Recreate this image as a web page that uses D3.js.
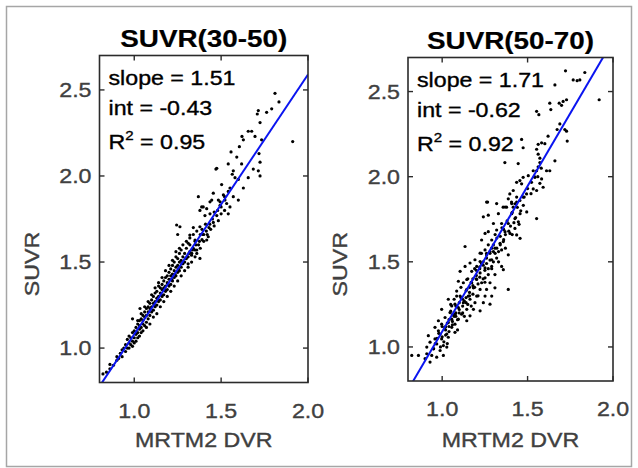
<!DOCTYPE html>
<html>
<head>
<meta charset="utf-8">
<script src="https://cdn.jsdelivr.net/npm/d3@7"></script>
<style>
  body { margin: 0; background: #fff; }
  text { font-family: "Liberation Sans", Arial, sans-serif; }
</style>
</head>
<body>
<svg id="chart" width="638" height="468"></svg>
<script>
// chart values
var titles = ["SUVR(30-50)", "SUVR(50-70)"];
var slopes = [1.51, 1.71];
var intercepts = [-0.43, -0.62];
var rSquared = [0.95, 0.92];
var xTicks = [1.0, 1.5, 2.0];
var yTicks = [1.0, 1.5, 2.0, 2.5];
var xDomain = [0.8, 2.0];
var yDomain = [0.8, 2.7];
var xLabel = "MRTM2 DVR";
var yLabel = "SUVR";

// [MRTM2 DVR, SUVR] pairs, SUVR(30-50)
var pts3050 = [
  [0.82,0.85],[0.84,0.86],[0.86,0.88],[0.86,0.905],[0.88,0.90],[0.90,0.95],[0.90,0.93],[0.91,0.94],
  [0.92,0.97],[0.93,0.95],[0.93,0.99],[0.94,1.00],[0.95,1.02],[0.95,0.98],
  [0.96,1.00],[0.96,1.05],[0.97,1.03],[0.97,1.07],[0.98,1.02],[0.98,1.06],[0.99,1.04],[0.99,1.09],
  [1.00,1.06],[1.00,1.10],[1.00,1.03],[1.01,1.08],[1.01,1.12],[1.02,1.09],[1.02,1.14],[1.02,1.06],
  [1.03,1.11],[1.03,1.16],[1.03,1.13],[1.04,1.12],[1.04,1.17],[1.04,1.09],[1.05,1.14],[1.05,1.19],
  [1.05,1.16],[1.06,1.13],[1.06,1.18],[1.06,1.21],[1.07,1.15],[1.07,1.19],[1.07,1.23],[1.08,1.17],
  [1.08,1.21],[1.08,1.24],[1.09,1.19],[1.09,1.23],[1.09,1.26],[1.10,1.21],[1.10,1.24],[1.10,1.28],
  [1.033,1.23],[0.99,1.17],
  [1.11,1.22],[1.11,1.26],[1.11,1.30],[1.12,1.24],[1.12,1.27],[1.12,1.32],[1.13,1.25],[1.13,1.29],
  [1.13,1.33],[1.14,1.27],[1.14,1.30],[1.14,1.36],[1.15,1.28],[1.15,1.32],[1.15,1.35],[1.16,1.30],
  [1.16,1.34],[1.16,1.37],[1.17,1.31],[1.17,1.35],[1.17,1.39],[1.18,1.33],[1.18,1.36],[1.18,1.41],
  [1.19,1.34],[1.19,1.38],[1.19,1.42],[1.20,1.36],[1.20,1.40],[1.20,1.44],[1.21,1.37],[1.21,1.42],
  [1.21,1.46],[1.22,1.39],[1.22,1.43],[1.22,1.48],[1.23,1.41],[1.23,1.45],[1.23,1.50],[1.24,1.42],
  [1.24,1.47],[1.24,1.53],[1.25,1.44],[1.25,1.48],[1.25,1.52],[1.26,1.45],[1.26,1.50],[1.26,1.55],
  [1.27,1.47],[1.27,1.51],[1.27,1.57],[1.28,1.49],[1.28,1.53],[1.29,1.50],[1.29,1.55],[1.30,1.52],
  [1.30,1.58],[1.31,1.53],[1.31,1.49],[1.32,1.56],[1.32,1.60],[1.33,1.54],[1.34,1.58],[1.35,1.57],
  [1.35,1.62],[1.36,1.55],[1.37,1.60],[1.38,1.66],[1.38,1.58],[1.39,1.63],
  [0.97,1.00],[0.99,1.01],[1.01,1.04],[1.03,1.07],[1.05,1.10],[1.07,1.12],[1.09,1.14],[1.11,1.18],
  [1.13,1.20],[1.15,1.24],[1.17,1.27],[1.19,1.30],[1.21,1.33],[1.23,1.36],[1.25,1.39],[1.27,1.42],
  [1.29,1.45],[1.31,1.47],[1.33,1.50],[1.35,1.53],
  [1.02,1.16],[1.04,1.20],[1.06,1.24],[1.08,1.27],[1.10,1.31],[1.12,1.35],[1.14,1.38],[1.16,1.41],
  [1.18,1.45],[1.20,1.48],[1.22,1.51],[1.24,1.56],[1.26,1.58],[1.28,1.60],[1.30,1.62],[1.32,1.64],
  [1.34,1.66],[1.36,1.68],
  [1.115,1.25],[1.135,1.28],[1.155,1.31],[1.175,1.34],[1.195,1.37],[1.215,1.40],[1.235,1.43],
  [1.255,1.46],[1.275,1.49],[1.295,1.52],[1.315,1.55],[1.335,1.57],[1.355,1.60],[1.375,1.62],
  [1.395,1.66],[1.415,1.68],[1.435,1.72],[1.455,1.73],[1.475,1.77],
  [1.40,1.62],[1.42,1.66],[1.44,1.69],[1.46,1.71],[1.48,1.80],[1.50,1.82],[1.52,1.88],[1.50,1.78],
  [1.244,1.715],[1.263,1.705],[1.25,1.66],[1.34,1.70],[1.378,1.705],[1.32,1.657],[1.35,1.628],
  [1.311,1.609],[1.36,1.57],[1.378,1.521],[1.331,1.551],[1.426,1.647],[1.417,1.628],[1.40,1.66],
  [1.39,1.69],[1.41,1.72],[1.43,1.70],[1.45,1.75],[1.46,1.79],[1.52,1.80],
  [1.378,1.80],[1.388,1.82],[1.407,1.77],[1.436,1.78],[1.436,1.85],[1.494,1.85],[1.541,1.78],
  [1.484,1.74],[1.369,1.88],[1.397,1.82],[1.417,1.81],[1.446,1.86],[1.455,1.90],[1.47,2.04],
  [1.475,2.045],[1.484,1.86],[1.494,1.83],[1.503,1.95],[1.513,1.89],[1.522,1.86],[1.532,1.84],
  [1.541,1.91],[1.551,1.93],[1.551,1.82],[1.557,2.14],[1.541,2.07],[1.57,2.03],[1.564,2.01],
  [1.58,1.99],[1.57,1.88],[1.599,1.86],[1.599,1.98],[1.59,2.11],[1.605,2.17],[1.618,2.07],
  [1.62,2.23],[1.628,2.21],[1.628,1.93],[1.656,2.26],[1.656,1.99],[1.676,2.26],[1.685,2.04],
  [1.695,2.23],[1.714,2.38],[1.714,2.03],[1.708,2.36],[1.718,2.13],[1.724,2.31],[1.724,2.08],
  [1.724,2.00],[1.733,2.21],[1.762,2.37],[1.791,2.39],[1.81,2.48],[1.833,2.43],[1.912,2.20]
];

// [MRTM2 DVR, SUVR] pairs, SUVR(50-70)
var pts5070 = [
  [0.822,0.950],[0.861,0.950],[0.900,0.931],[0.929,0.911],[0.910,0.960],[0.939,0.950],[0.968,0.940],
  [1.007,0.950],[0.910,0.999],[0.949,0.989],[0.988,0.979],[1.027,0.999],[0.929,1.028],[0.968,1.018],
  [1.007,1.008],[0.958,1.047],[0.997,1.047],[1.036,1.057],[0.919,1.066],[0.988,1.076],[1.027,1.076],
  [1.075,1.086],[0.978,1.095],[1.017,1.115],[1.056,1.115],[0.958,1.115],[0.997,1.134],[1.036,1.144],
  [1.075,1.134],[0.978,1.154],[1.056,1.163],[1.095,1.163],[1.144,1.154],[1.017,1.173],[1.075,1.192],
  [1.114,1.192],[1.163,1.183],[1.046,1.202],[1.144,1.221],[1.183,1.221],[1.222,1.212],[0.997,1.221],
  [1.056,1.241],[1.095,1.231],[1.075,1.251],[1.124,1.260],[1.192,1.260],[1.241,1.260],[1.280,1.251],
  [1.036,1.280],[1.163,1.280],[1.085,1.299],[1.105,1.299],[1.153,1.299],[1.202,1.299],[1.251,1.299],
  [1.290,1.299],[1.085,1.328],[1.144,1.338],[1.183,1.347],[1.222,1.338],[1.260,1.338],[1.309,1.347],
  [1.387,1.338],[1.095,1.386],[1.124,1.377],[1.173,1.377],[1.231,1.377],[1.280,1.377],[1.144,1.396],
  [1.202,1.396],[1.251,1.406],[1.105,1.444],[1.173,1.444],[1.222,1.435],[1.270,1.425],[1.309,1.425],
  [1.202,1.473],[1.251,1.464],[1.290,1.473],[1.348,1.473],[1.358,1.454],[1.134,1.473],[1.163,1.493],
  [1.192,1.512],[1.222,1.502],[1.260,1.522],[1.290,1.512],[1.319,1.522],[1.387,1.541],[1.222,1.551],
  [1.251,1.570],[1.309,1.580],[1.348,1.570],[1.134,1.590],[1.231,1.628],[1.290,1.628],[1.339,1.609],
  [1.358,1.619],[1.397,1.667],[1.436,1.658],[1.456,1.638],[1.251,1.667],[1.270,1.677],[1.319,1.687],
  [1.368,1.677],[1.426,1.696],[1.300,1.725],[1.348,1.725],[1.387,1.725],[1.446,1.735],[1.241,1.764],
  [1.270,1.774],[1.329,1.783],[1.407,1.783],[1.456,1.783],[1.426,1.754],[1.495,1.793],[1.553,1.754],
  [1.260,1.851],[1.319,1.842],[1.368,1.822],[1.407,1.842],[1.436,1.851],[1.475,1.832],
  [1.266,1.851],[1.357,1.821],[1.377,1.821],[1.416,1.821],[1.426,1.841],[1.406,1.851],[1.455,1.860],
  [1.387,1.870],[1.436,1.880],[1.474,1.880],[1.396,1.899],[1.494,1.899],[1.416,1.919],[1.533,1.928],
  [1.553,1.919],[1.591,1.938],[1.436,1.967],[1.465,1.958],[1.455,1.977],[1.474,1.996],[1.523,1.967],
  [1.572,1.961],[1.582,1.987],[1.543,1.996],[1.504,2.006],[1.533,2.035],[1.553,2.035],[1.611,2.035],
  [1.630,2.035],[1.562,2.058],[1.367,2.083],[1.445,2.077],[1.572,2.083],[1.660,2.093],[1.572,2.109],
  [1.562,2.132],[1.553,2.161],[1.474,2.170],[1.562,2.190],[1.582,2.199],[1.601,2.194],[1.465,2.219],
  [1.620,2.238],[1.732,2.209],[1.728,2.267],[1.673,2.277],[1.718,2.277],[1.689,2.310],[1.566,2.364],
  [1.553,2.384],[1.636,2.394],[1.699,2.419],[1.630,2.432],[1.685,2.432],[1.708,2.442],[1.728,2.452],
  [1.919,2.452],[1.660,2.539],[1.767,2.568],[1.790,2.564],[1.806,2.568],[1.722,2.622],[1.835,2.612],
  [1.00,1.06],[1.02,1.10],[1.04,1.12],[1.06,1.15],[1.08,1.18],[1.10,1.20],[1.12,1.24],[1.14,1.26],
  [1.16,1.32],[1.18,1.36],[1.20,1.42],[1.22,1.46],[1.24,1.48],[1.26,1.54],[1.28,1.56],[1.30,1.60],
  [0.96,1.02],[0.98,1.08],[1.00,1.12],[1.01,1.03],[1.02,1.07],[1.03,1.14],[1.04,1.09],[1.05,1.21],
  [1.06,1.13],[1.07,1.18],[1.08,1.24],[1.09,1.16],[1.10,1.22],[1.11,1.29],[1.12,1.20],[1.13,1.27],
  [1.14,1.33],[1.15,1.25],[1.16,1.30],[1.17,1.38],[1.18,1.31],[1.19,1.35],[1.20,1.45],[1.21,1.37],
  [1.22,1.41],[1.23,1.49],[1.24,1.40],[1.25,1.45],[1.26,1.55],[1.27,1.46],[1.28,1.51],[1.29,1.58],
  [1.30,1.50],[1.31,1.55],[1.32,1.64],[1.33,1.56],[1.34,1.60],[1.35,1.70],[1.36,1.63],[1.37,1.66],
  [1.38,1.74],[1.39,1.68],[1.40,1.71],[1.41,1.79],[1.42,1.73],[1.43,1.76],[1.44,1.82],[1.46,1.80],
  [1.48,1.88],[1.50,1.93],[1.52,1.90],[1.54,2.00],[1.56,2.00],[1.58,2.05],
  [1.02,1.12],[1.04,1.16],[1.06,1.19],[1.08,1.20],[1.10,1.26],[1.12,1.28],[1.14,1.29],[1.16,1.35],
  [1.18,1.40],[1.20,1.40],[1.22,1.47],[1.24,1.50],[1.26,1.49],[1.28,1.55],[1.30,1.56],[1.32,1.58],
  [1.34,1.65],[1.36,1.69],[1.15,1.40],[1.11,1.35],[1.07,1.28],[1.05,1.25],[1.19,1.46],[1.23,1.55],
  [1.27,1.60],[1.31,1.66],[1.09,1.10],[1.13,1.18],[1.17,1.24],[1.21,1.30],[1.25,1.38],[1.29,1.46],
  [1.33,1.50],[1.37,1.58],[1.41,1.66],[1.45,1.72],[1.03,1.02],[0.99,1.00],[0.97,1.05],[0.95,0.99]
];

var panelData = [pts3050, pts5070];

// layout of the two axes boxes
var panels = [
  { left: 99.5, right: 308, top: 55.5, bottom: 382.5 },
  { left: 408, right: 613, top: 57.5, bottom: 381 }
];

var sx = 1.16;       // horizontal text stretch of the source picture
var labelColor = "#404040";

var svg = d3.select("#chart");

// outer light frame
svg.append("rect")
  .attr("x", 6.5).attr("y", 6.5)
  .attr("width", 625).attr("height", 460)
  .attr("fill", "none")
  .attr("stroke", "#a6a6a6")
  .attr("stroke-width", 1.5);

function stretchedText(g, x, y, str, size, opts) {
  opts = opts || {};
  var col = opts.fill || "#000";
  var t = g.append("text")
    .attr("transform", "translate(" + x + "," + y + ")" + (opts.rotate ? " rotate(" + opts.rotate + ")" : "") + " scale(" + sx + ",1)")
    .attr("font-size", size)
    .attr("text-anchor", opts.anchor || "start")
    .attr("fill", col)
    .attr("stroke", col)
    .attr("stroke-width", opts.weight ? 0.2 : 0.35)
    .attr("font-weight", opts.weight || "normal")
    .text(str);
  return t;
}

panels.forEach(function(p, i) {
  var x = d3.scaleLinear().domain(xDomain).range([p.left, p.right]);
  var y = d3.scaleLinear().domain(yDomain).range([p.bottom, p.top]);
  var g = svg.append("g");

  var clipId = "clip" + i;
  svg.append("clipPath").attr("id", clipId)
    .append("rect")
    .attr("x", p.left).attr("y", p.top)
    .attr("width", p.right - p.left).attr("height", p.bottom - p.top);

  // points
  g.append("g")
    .attr("clip-path", "url(#" + clipId + ")")
    .selectAll("circle")
    .data(panelData[i])
    .enter()
    .append("circle")
    .attr("cx", d => x(d[0]))
    .attr("cy", d => y(d[1]))
    .attr("r", 1.6)
    .attr("fill", "#000");

  // fit line
  var fit = xDomain.map(v => [v, slopes[i] * v + intercepts[i]]);
  g.append("path")
    .attr("clip-path", "url(#" + clipId + ")")
    .attr("d", d3.line().x(d => x(d[0])).y(d => y(d[1]))(fit))
    .attr("fill", "none")
    .attr("stroke", "#0a14f0")
    .attr("stroke-width", 2);

  // box
  g.append("rect")
    .attr("x", p.left).attr("y", p.top)
    .attr("width", p.right - p.left).attr("height", p.bottom - p.top)
    .attr("fill", "none")
    .attr("stroke", "#2b2b2b")
    .attr("stroke-width", 1.6);

  // inward ticks, all four sides
  var tl = 5;
  xTicks.forEach(function(v) {
    g.append("line").attr("x1", x(v)).attr("x2", x(v)).attr("y1", p.bottom).attr("y2", p.bottom - tl)
      .attr("stroke", "#2b2b2b").attr("stroke-width", 1.4);
    g.append("line").attr("x1", x(v)).attr("x2", x(v)).attr("y1", p.top).attr("y2", p.top + tl)
      .attr("stroke", "#2b2b2b").attr("stroke-width", 1.4);
    stretchedText(g, x(v), p.bottom + 35, d3.format(".1f")(v), 20, { anchor: "middle", fill: labelColor });
  });
  yTicks.forEach(function(v) {
    g.append("line").attr("x1", p.left).attr("x2", p.left + tl).attr("y1", y(v)).attr("y2", y(v))
      .attr("stroke", "#2b2b2b").attr("stroke-width", 1.4);
    g.append("line").attr("x1", p.right).attr("x2", p.right - tl).attr("y1", y(v)).attr("y2", y(v))
      .attr("stroke", "#2b2b2b").attr("stroke-width", 1.4);
    stretchedText(g, p.left - 8, y(v) + 7, d3.format(".1f")(v), 20, { anchor: "end", fill: labelColor });
  });

  // title and axis labels
  var cx = (p.left + p.right) / 2;
  stretchedText(g, cx, p.top - 9, titles[i], 24, { anchor: "middle", weight: "bold" });
  stretchedText(g, cx, 447, xLabel, 20, { anchor: "middle", fill: labelColor });
  stretchedText(g, p.left - 61, (p.top + p.bottom) / 2 + 45, yLabel, 20, { anchor: "middle", fill: labelColor, rotate: -90 });

  // fit statistics
  var tx = p.left + 9;
  stretchedText(g, tx, p.top + 29, "slope = " + slopes[i].toFixed(2), 20);
  stretchedText(g, tx, p.top + 59, "int = " + intercepts[i].toFixed(2), 20);
  var r = stretchedText(g, tx, p.top + 93, "R", 20);
  r.append("tspan").attr("font-size", 13).attr("dy", -9).text("2");
  r.append("tspan").attr("dy", 9).text(" = " + rSquared[i].toFixed(2));
});
</script>
</body>
</html>
